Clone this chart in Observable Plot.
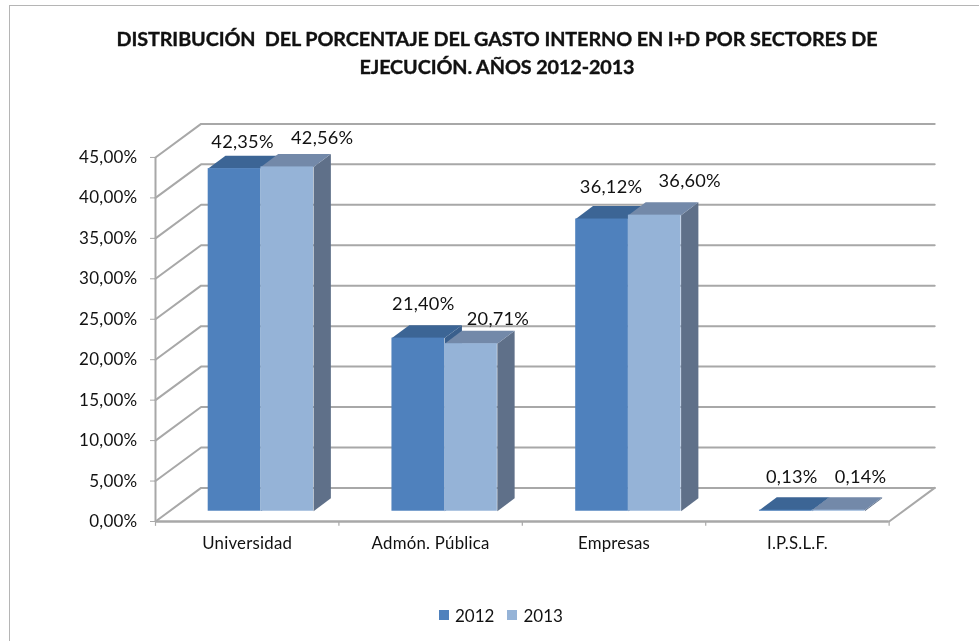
<!DOCTYPE html>
<html lang="es">
<head>
<meta charset="utf-8">
<script src="https://cdn.jsdelivr.net/npm/d3@7"></script>
<script src="https://cdn.jsdelivr.net/npm/@observablehq/plot@0.6"></script>
<style>
  html, body { margin: 0; padding: 0; background: #fff; }
  #chart { position: relative; width: 979px; height: 643px; overflow: hidden; font-family: Lato, sans-serif; color: #111; filter: blur(0.35px); }
  #frameTop { position: absolute; left: 10px; right: 0; top: 5px; height: 1px; background: #b5b5b5; }
  #frameLeft { position: absolute; left: 9px; top: 5px; bottom: 2px; width: 1px; background: #b5b5b5; }
  #title { height: 100px; box-sizing: border-box; padding: 24px 0 0 15px; text-align: center; font-weight: 700; font-size: 19.8px; line-height: 28px; letter-spacing: -0.1px; -webkit-text-stroke: 0.35px #111; }
  #legend { position: absolute; left: 439px; top: 604px; display: flex; align-items: center; font-size: 17px; height: 22px; }
  #legend i { display: inline-block; width: 10px; height: 10px; margin-right: 6px; }
  #legend span { margin-right: 13px; }
  svg { display: block; }
</style>
</head>
<body>
<div id="chart">
  <div id="frameTop"></div>
  <div id="frameLeft"></div>
  <div id="title">DISTRIBUCIÓN&nbsp; DEL PORCENTAJE DEL GASTO INTERNO EN I+D POR SECTORES DE<br>EJECUCIÓN. AÑOS 2012-2013</div>
  <div id="plot"></div>
  <div id="legend"></div>
</div>
<script>
const categories = ["Universidad", "Admón. Pública", "Empresas", "I.P.S.L.F."];
const years = ["2012", "2013"];
const values2012 = [42.35, 21.40, 36.12, 0.13];
const values2013 = [42.56, 20.71, 36.60, 0.14];
const yTicks = [0, 5, 10, 15, 20, 25, 30, 35, 40, 45];

// Oblique projection, in scale units: how the "3D" depth maps onto x and y.
const wallDepth = {x: 0.2485, y: 4.15};
const barDepth = {x: 0.0943, y: 1.6};
const barStart = {x: 0.2873, y: 1.27};
const barWidth = 0.2873;
const barStep = 1.0019;
const xMax = 4;

const colors = {
  "2012": {front: "#4f81bd", top: "#3c6595", side: "#3a5f8c"},
  "2013": {front: "#95b3d7", top: "#7389a9", side: "#5f7089"}
};
// Manual placement of each data label relative to the bar's front top (px).
const labelOffsets = {
  "2012": [[8, -26], [5, -34], [9, -32], [6, -33]],
  "2013": [[35, -29], [27, -25], [35, -34], [22, -33]]
};

const pct = (d) => d3.format(".2f")(d).replace(".", ",") + "%";
const series = [
  {year: "2012", values: values2012, slot: 0},
  {year: "2013", values: values2013, slot: 1}
];
const gridColor = "#a8a8a8";

const bars = series.flatMap(({year, values, slot}) =>
  values.map((value, i) => {
    const x1 = i * barStep + barStart.x + slot * barWidth;
    const x2 = x1 + barWidth;
    const y1 = barStart.y;
    const y2 = barStart.y + value;
    return {year, value, i, x1, x2, y1, y2};
  })
);
const topPoly = (b) => [
  [b.x1, b.y2], [b.x2, b.y2],
  [b.x2 + barDepth.x, b.y2 + barDepth.y], [b.x1 + barDepth.x, b.y2 + barDepth.y]
].map(([x, y]) => ({x, y, id: b.year + b.i}));
const sidePoly = (b) => [
  [b.x2, b.y1], [b.x2, b.y2],
  [b.x2 + barDepth.x, b.y2 + barDepth.y], [b.x2 + barDepth.x, b.y1 + barDepth.y]
].map(([x, y]) => ({x, y, id: b.year + b.i}));

const gridLines = yTicks.flatMap((t) => [
  {x: 0, y: t, id: t},
  {x: wallDepth.x, y: t + wallDepth.y, id: t},
  {x: xMax + wallDepth.x, y: t + wallDepth.y, id: t}
]);
const rightFloor = [
  {x: xMax, y: 0},
  {x: xMax + wallDepth.x, y: wallDepth.y}
];

const marks = [
  Plot.line(gridLines, {x: "x", y: "y", z: "id", stroke: gridColor, strokeWidth: 2}),
  Plot.line(rightFloor, {x: "x", y: "y", stroke: gridColor, strokeWidth: 2}),
  Plot.ruleX([0], {y1: 0, y2: 45, stroke: gridColor, strokeWidth: 2}),
  Plot.ruleY([0], {x1: 0, x2: xMax, stroke: gridColor, strokeWidth: 2.5}),
  Plot.ruleX(d3.range(0, xMax + 1), {y1: 0, y2: -0.6, stroke: gridColor, strokeWidth: 1.2}),
  Plot.axisY({
    ticks: yTicks, tickFormat: pct, tickSize: 5, tickPadding: 13, label: null,
    stroke: gridColor, fill: "#111", fontSize: 17
  })
];
for (const {year} of series) {
  const subset = bars.filter((b) => b.year === year);
  marks.push(
    Plot.line(subset.flatMap(sidePoly), {x: "x", y: "y", z: "id", fill: colors[year].side, stroke: "none"}),
    Plot.line(subset.flatMap(topPoly), {x: "x", y: "y", z: "id", fill: colors[year].top, stroke: "none"}),
    Plot.rect(subset, {x1: "x1", x2: "x2", y1: "y1", y2: "y2", fill: colors[year].front})
  );
}
for (const b of bars) {
  const [dx, dy] = labelOffsets[b.year][b.i];
  marks.push(Plot.text([b], {
    x: (d) => (d.x1 + d.x2) / 2, y: "y2", text: (d) => pct(d.value),
    dx, dy, fontSize: 18.2, fill: "#111"
  }));
}
marks.push(Plot.text(categories, {
  x: (d, i) => i + 0.5, y: () => 0, text: (d) => d,
  dy: 22, fontSize: 16.8, fill: "#111"
}));

const plot = Plot.plot({
  width: 979,
  height: 480,
  marginLeft: 155,
  marginRight: 17,
  marginTop: 16.5,
  marginBottom: 59,
  x: {domain: [0, 4.4], range: [155, 962], axis: null},
  y: {domain: [0, 50], range: [421, 16.5], axis: null},
  style: {fontFamily: "Lato, sans-serif", background: "#fff", overflow: "visible", letterSpacing: "0.25px"},
  marks
});
document.getElementById("plot").appendChild(plot);

const legend = document.getElementById("legend");
for (const year of years) {
  const sw = document.createElement("i");
  sw.style.background = colors[year].front;
  const lab = document.createElement("span");
  lab.textContent = year;
  legend.append(sw, lab);
}
</script>
</body>
</html>
